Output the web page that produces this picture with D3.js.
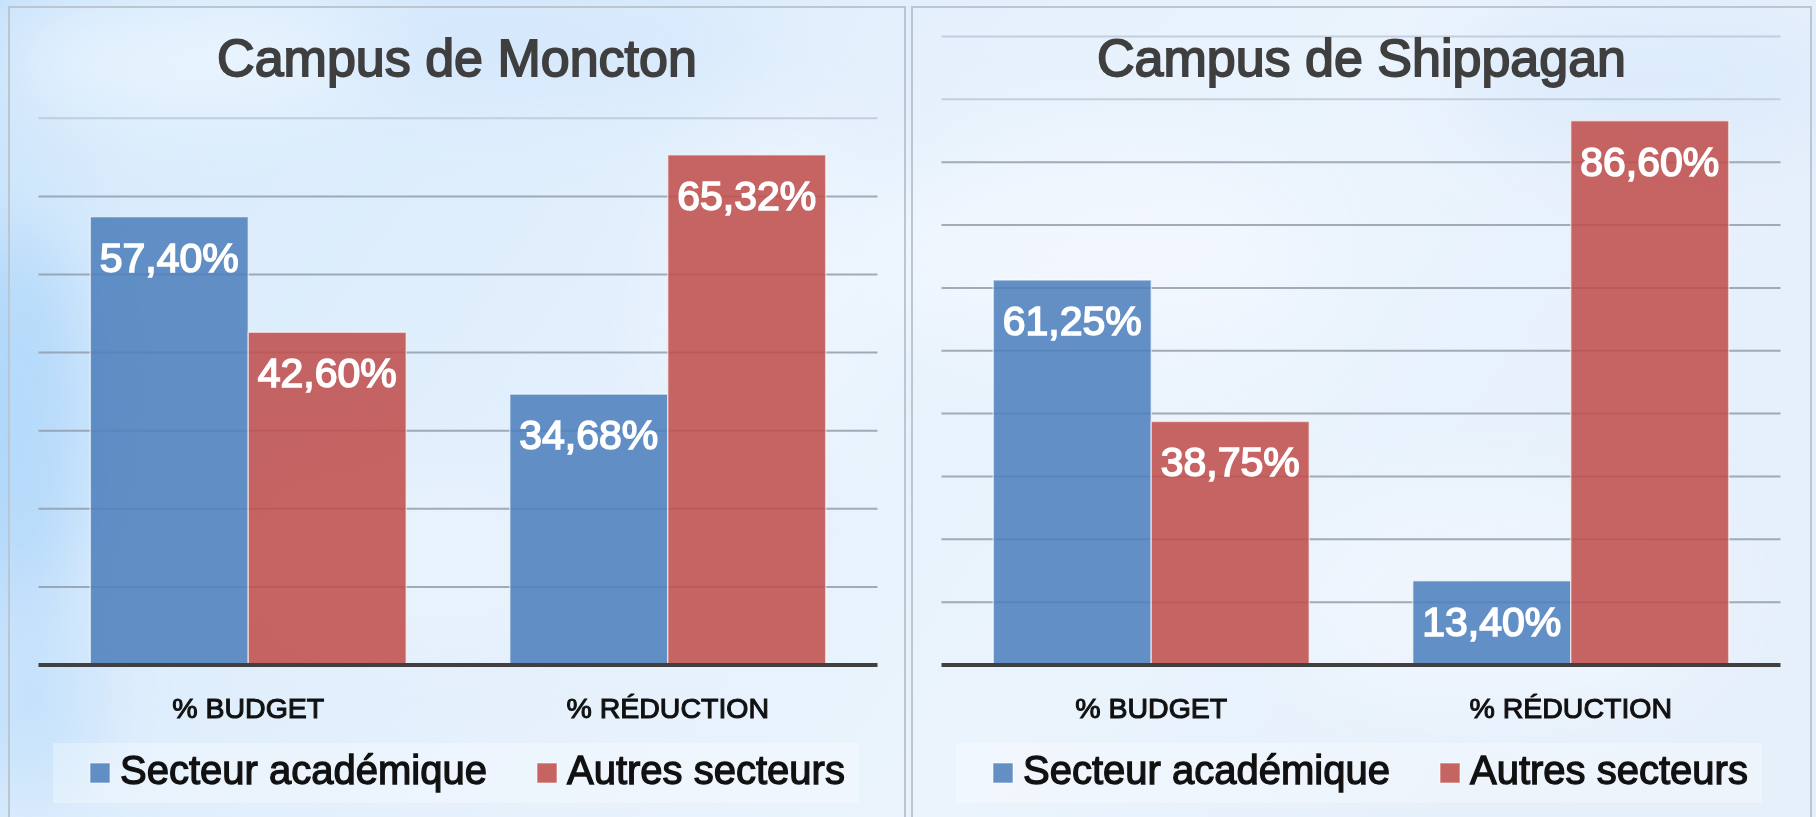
<!DOCTYPE html>
<html>
<head>
<meta charset="utf-8">
<script src="https://cdn.jsdelivr.net/npm/d3@7"></script>
<style>
  html, body { margin: 0; padding: 0; background: #d6e9fb; overflow: hidden; }
  svg { display: block; }
</style>
</head>
<body>
<div id="diagram"></div>
<script>
!(function () {
  // - - - - - - - - - -

  const titles = ['Campus de Moncton', 'Campus de Shippagan'];
  const categories = ['% BUDGET', '% RÉDUCTION'];
  const series = ['Secteur académique', 'Autres secteurs'];
  const colors = ['#4f81bd', '#c0504d'];

  // values per campus, one array per series
  const moncton_academique = [57.40, 34.68];
  const moncton_autres = [42.60, 65.32];
  const shippagan_academique = [61.25, 13.40];
  const shippagan_autres = [38.75, 86.60];

  const yMax = [70, 100];

  const campuses = [
    { title: titles[0], values: [moncton_academique, moncton_autres], max: yMax[0], left: 9, width: 896 },
    { title: titles[1], values: [shippagan_academique, shippagan_autres], max: yMax[1], left: 912, width: 899 }
  ];

  let
    width = 1816,
    height = 817,
    font = '"Liberation Sans", Arial, sans-serif',
    fmt = d3.format('.2f');

  const svg = d3.select('#diagram')
    .append('svg')
    .attr('width', width)
    .attr('height', height);

  // sky background
  const defs = svg.append('defs');
  const bg = defs.append('linearGradient').attr('id', 'bg')
    .attr('x1', 0).attr('y1', 0).attr('x2', 1).attr('y2', 0.3);
  bg.append('stop').attr('offset', 0).attr('stop-color', '#c4e1fb');
  bg.append('stop').attr('offset', 0.12).attr('stop-color', '#d6eafc');
  bg.append('stop').attr('offset', 0.45).attr('stop-color', '#e2effc');
  bg.append('stop').attr('offset', 0.75).attr('stop-color', '#eaf3fd');
  bg.append('stop').attr('offset', 1).attr('stop-color', '#e4effb');

  const blur = defs.append('filter').attr('id', 'blur')
    .attr('x', '-50%').attr('y', '-50%').attr('width', '200%').attr('height', '200%');
  blur.append('feGaussianBlur').attr('stdDeviation', 40);

  svg.append('rect').attr('width', width).attr('height', height).attr('fill', 'url(#bg)');

  const clouds = [
    [20, 420, 70, 200, '#a6d2fa', 0.85],
    [30, 700, 60, 100, '#b2d8fb', 0.7],
    [180, 60, 180, 60, '#eef6ff', 0.7],
    [560, 40, 200, 50, '#c9e2fb', 0.6],
    [780, 300, 120, 160, '#eef6ff', 0.7],
    [1100, 250, 220, 120, '#f3f8ff', 0.7],
    [1650, 80, 200, 80, '#d2e6fb', 0.6],
    [1500, 600, 220, 120, '#f3f8ff', 0.6],
    [400, 560, 180, 90, '#e9f3fd', 0.6]
  ];
  svg.append('g').attr('filter', 'url(#blur)')
    .selectAll('ellipse')
    .data(clouds)
    .enter()
    .append('ellipse')
    .attr('cx', d => d[0]).attr('cy', d => d[1])
    .attr('rx', d => d[2]).attr('ry', d => d[3])
    .attr('fill', d => d[4]).attr('opacity', d => d[5]);

  campuses.forEach(function (c) {
    const g = svg.append('g').attr('transform', 'translate(' + c.left + ',0)');

    g.append('rect')
      .attr('x', 0).attr('y', 7)
      .attr('width', c.width).attr('height', height)
      .attr('fill', 'rgba(255,255,255,0.08)')
      .attr('stroke', '#bcc6d0')
      .attr('stroke-width', 2);

    const x0 = d3.scaleBand()
      .domain(categories)
      .range([29.5, 868.5])
      .paddingInner(0.247)
      .paddingOuter(0.1235);

    const x1 = d3.scaleBand()
      .domain(series)
      .range([0, x0.bandwidth()]);

    const y = d3.scaleLinear()
      .domain([0, c.max])
      .range([665, 665 - c.max * (c.max === 70 ? 7.81 : 6.285)]);

    // gridlines
    g.append('g')
      .selectAll('line')
      .data(y.ticks(c.max / 10).filter(d => d > 0))
      .enter()
      .append('line')
      .attr('x1', 29.5).attr('x2', 868.5)
      .attr('y1', d => y(d)).attr('y2', d => y(d))
      .attr('stroke', d => y(d) < 125 ? '#b9c6d4' : '#8d99a6')
      .attr('stroke-opacity', 0.8)
      .attr('stroke-width', 2);

    // bars
    const rows = categories.map((cat, i) => series.map((s, j) => ({ cat: cat, s: s, v: c.values[j][i], j: j })));
    const grp = g.append('g')
      .selectAll('g')
      .data(rows)
      .enter()
      .append('g')
      .attr('transform', d => 'translate(' + x0(d[0].cat) + ',0)');

    grp.selectAll('rect')
      .data(d => d)
      .enter()
      .append('rect')
      .attr('x', d => x1(d.s))
      .attr('y', d => y(d.v))
      .attr('width', x1.bandwidth())
      .attr('height', d => y(0) - y(d.v))
      .attr('fill', d => colors[d.j])
      .attr('fill-opacity', 0.88)
      .attr('stroke', 'rgba(255,255,255,0.55)')
      .attr('stroke-width', 1.5);

    grp.selectAll('text')
      .data(d => d)
      .enter()
      .append('text')
      .attr('x', d => x1(d.s) + x1.bandwidth() / 2)
      .attr('y', d => y(d.v) + 55)
      .attr('text-anchor', 'middle')
      .style('font-family', font)
      .style('font-size', '41px')
      .style('fill', '#ffffff')
      .style('stroke', '#ffffff')
      .style('stroke-width', 1.6)
      .text(d => fmt(d.v).replace('.', ',') + '%');

    // axis baseline
    g.append('line')
      .attr('x1', 29.5).attr('x2', 868.5)
      .attr('y1', y(0)).attr('y2', y(0))
      .attr('stroke', '#404040')
      .attr('stroke-width', 4);

    // category labels
    g.append('g')
      .selectAll('text')
      .data(categories)
      .enter()
      .append('text')
      .attr('x', d => x0(d) + x0.bandwidth() / 2)
      .attr('y', 718)
      .attr('text-anchor', 'middle')
      .style('font-family', font)
      .style('font-size', '28.5px')
      .style('fill', '#111111')
      .style('stroke', '#111111')
      .style('stroke-width', 1.1)
      .text(d => d);

    // title
    g.append('text')
      .attr('x', c.width / 2)
      .attr('y', 76)
      .attr('text-anchor', 'middle')
      .style('font-family', font)
      .style('font-size', '52px')
      .style('fill', '#3f3f3f')
      .style('stroke', '#3f3f3f')
      .style('stroke-width', 1.8)
      .text(c.title);

    // legend
    const lg = g.append('g').attr('transform', 'translate(44,743)');
    lg.append('rect')
      .attr('width', 806).attr('height', 60)
      .attr('fill', 'rgba(255,255,255,0.3)');
    const item = lg.selectAll('g')
      .data(series)
      .enter()
      .append('g')
      .attr('transform', (d, i) => 'translate(' + [37, 484][i] + ',0)');
    item.append('rect')
      .attr('x', 0).attr('y', 20)
      .attr('width', 20).attr('height', 20)
      .attr('fill', (d, i) => colors[i])
      .attr('fill-opacity', 0.88)
      .attr('stroke', 'rgba(255,255,255,0.6)');
    item.append('text')
      .attr('x', 30)
      .attr('y', 41)
      .style('font-family', font)
      .style('font-size', '40px')
      .style('fill', '#111111')
      .style('stroke', '#111111')
      .style('stroke-width', 1.3)
      .text(d => d);
  });

  // - - - - - - - - - -
}());
</script>
</body>
</html>
